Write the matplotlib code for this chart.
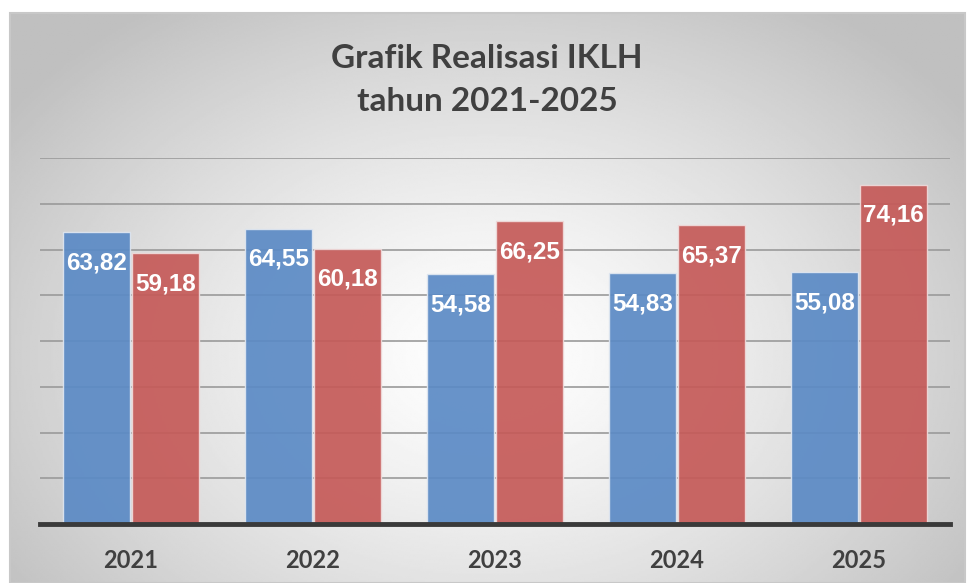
import numpy as np
import matplotlib
matplotlib.use("Agg")
import matplotlib.pyplot as plt

years = ["2021", "2022", "2023", "2024", "2025"]
target = [63.82, 64.55, 54.58, 54.83, 55.08]
realisasi = [59.18, 60.18, 66.25, 65.37, 74.16]
title = "Grafik Realisasi IKLH\ntahun 2021-2025"

blue = "#5b8ac5"
red = "#c55a58"
W, H = 968, 583

fig = plt.figure(figsize=(W / 100, H / 100), dpi=100, facecolor="white")

# radial gradient background inside the chart frame
bg = fig.add_axes([10 / W, 0, 955 / W, 570 / H])
yy, xx = np.mgrid[0:1:300j, 0:1:500j]
r = np.sqrt(((xx - 0.5) / 0.62) ** 2 + ((yy - 0.6) / 0.75) ** 2)
shade = 1.0 - 0.25 * np.clip(r, 0, 1) ** 1.3
bg.imshow(shade, cmap="gray", vmin=0, vmax=1, aspect="auto", extent=[0, 1, 0, 1])
bg.set_axis_off()
fig.add_artist(plt.Rectangle((10 / W, 0), 955 / W, 570 / H, transform=fig.transFigure,
                             fill=False, edgecolor="#c8c8c8", lw=1.5))

ax = fig.add_axes([40 / W, (H - 524) / H, 910 / W, 366 / H])
ax.patch.set_alpha(0)
x = np.arange(len(years))
bw = 0.37
ax.set_ylim(0, 80)
ax.set_xlim(-0.5, len(years) - 0.5)
ax.set_yticks(np.arange(0, 81, 10))
ax.yaxis.grid(True, color="#9a9a9a", lw=1.2)
ax.set_axisbelow(True)

b1 = ax.bar(x - bw / 2 - 0.005, target, bw, color=blue, alpha=0.92, edgecolor="#dfe6f0", lw=1)
b2 = ax.bar(x + bw / 2 + 0.005, realisasi, bw, color=red, alpha=0.92, edgecolor="#efdada", lw=1)

for bars, vals in ((b1, target), (b2, realisasi)):
    for b, v in zip(bars, vals):
        ax.text(b.get_x() + b.get_width() / 2, v - 6.7, f"{v:.2f}".replace(".", ","),
                ha="center", va="center", color="white", fontsize=17.5, fontweight="bold",
                family="Liberation Sans")

for s in ("top", "right", "left"):
    ax.spines[s].set_visible(False)
ax.spines["bottom"].set_color("#3a3a3a")
ax.spines["bottom"].set_linewidth(3.5)
ax.tick_params(axis="y", left=False, labelleft=False)
ax.tick_params(axis="x", length=0, pad=18)
ax.set_xticks(x)
ax.set_xticklabels(years, fontsize=17, fontweight="bold", color="#404040", family="Lato")

fig.text(0.503, 1 - 80 / H, title, ha="center", va="center", fontsize=24,
         fontweight="bold", color="#404040", family="Lato", linespacing=1.62)

fig.savefig("out.png", dpi=100, facecolor="white")
